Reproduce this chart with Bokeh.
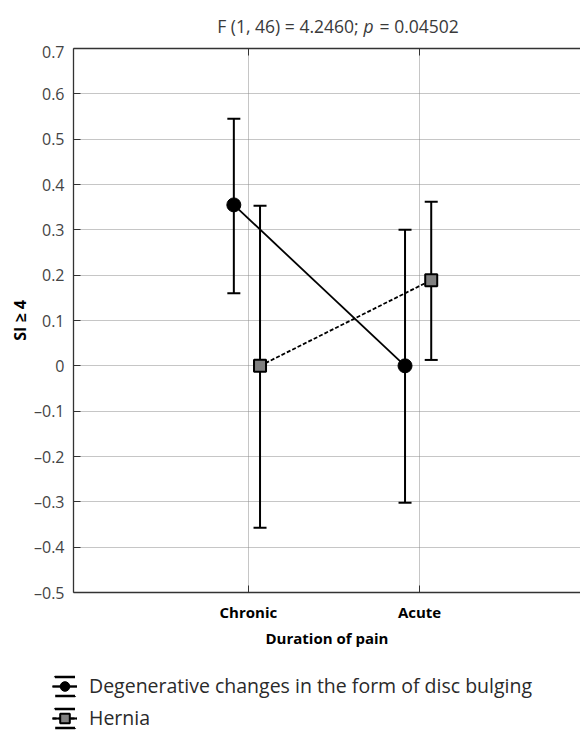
from bokeh.plotting import figure
from bokeh.layouts import column
from bokeh.models import (ColumnDataSource, FixedTicker, LinearAxis, Label,
                          Legend, LegendItem, Range1d)
from bokeh.embed import file_html
from bokeh.resources import INLINE

# ---- data -------------------------------------------------------------
categories = ["Chronic", "Acute"]
category_pos = [1, 2]

series_names = ["Degenerative changes in the form of disc bulging", "Hernia"]

deg_mean = [0.355, 0.0]
deg_lower = [0.160, -0.302]
deg_upper = [0.545, 0.300]

her_mean = [0.0, 0.189]
her_lower = [-0.357, 0.013]
her_upper = [0.353, 0.362]

y_ticks = [-0.5, -0.4, -0.3, -0.2, -0.1, 0.0, 0.1, 0.2, 0.3, 0.4, 0.5, 0.6, 0.7]
y_tick_labels = ["\u20130.5", "\u20130.4", "\u20130.3", "\u20130.2", "\u20130.1", "0",
                 "0.1", "0.2", "0.3", "0.4", "0.5", "0.6", "0.7"]

title_pre = "F (1, 46) = 4.2460;"
title_italic = "p"
title_post = "= 0.04502"
x_title = "Duration of pain"
y_title = "SI \u2265 4"

# ---- styling / layout ---------------------------------------------------
FONT = "Open Sans"
NAN = float("nan")
W = 580
TITLE_H, MAIN_H, LEG_H = 40, 620, 71

deg_off = -0.085
her_off = 0.068
deg_x = [c + deg_off for c in category_pos]
her_x = [c + her_off for c in category_pos]

deg_src = ColumnDataSource(dict(x=deg_x, y=deg_mean, lo=deg_lower, hi=deg_upper))
her_src = ColumnDataSource(dict(x=her_x, y=her_mean, lo=her_lower, hi=her_upper))

x_range = Range1d(-0.0216, 2.94)

# ---- main chart -----------------------------------------------------------
p = figure(width=W, height=MAIN_H, x_range=x_range,
           y_range=Range1d(y_ticks[0], y_ticks[-1]),
           output_backend="svg", toolbar_location=None,
           min_border_left=73, min_border_right=0, min_border_top=8,
           min_border_bottom=68, outline_line_color=None,
           background_fill_color="white", border_fill_color="white")

xa = p.xaxis[0]
xa.ticker = FixedTicker(ticks=category_pos)
xa.major_label_overrides = {c: lab for c, lab in zip(category_pos, categories)}
xa.axis_label = x_title
ya = p.yaxis[0]
ya.ticker = FixedTicker(ticks=y_ticks)
ya.major_label_overrides = {t: lab for t, lab in zip(y_ticks, y_tick_labels)}
ya.axis_label = y_title

for ax in (xa, ya):
    ax.axis_line_color = "#333333"
    ax.axis_line_width = 1.3
    ax.major_tick_line_color = "#333333"
    ax.major_tick_in = 7
    ax.major_tick_out = 0
    ax.minor_tick_line_color = None
    ax.major_label_text_font = FONT
    ax.axis_label_text_font = FONT
    ax.axis_label_text_color = "black"

xa.major_label_text_font_size = "15px"
xa.major_label_text_font_style = "bold"
xa.major_label_text_color = "black"
xa.major_label_standoff = 9
xa.axis_label_text_font_size = "15px"
xa.axis_label_text_font_style = "bold"
xa.axis_label_standoff = 3

ya.major_label_text_font_size = "16px"
ya.major_label_text_color = "#444444"
ya.major_label_standoff = 9
ya.axis_label_text_font_size = "16px"
ya.axis_label_text_font_style = "bold"
ya.axis_label_standoff = 0

top = LinearAxis(ticker=FixedTicker(ticks=category_pos),
                 major_label_text_color=None, major_label_text_font_size="1px",
                 axis_line_color="#333333", axis_line_width=1.3,
                 major_tick_line_color="#333333",
                 major_tick_in=7, major_tick_out=0, minor_tick_line_color=None,
                 major_label_standoff=0)
p.add_layout(top, "above")

p.xgrid.ticker = FixedTicker(ticks=category_pos)
p.ygrid.ticker = FixedTicker(ticks=y_ticks)
for g in (p.xgrid, p.ygrid):
    g.grid_line_color = "#8c8c8c"
    g.grid_line_dash = "1 1"
    g.grid_line_width = 1

p.line("x", "y", source=deg_src, line_color="black", line_width=1.8)
p.line("x", "y", source=her_src, line_color="black", line_width=1.8, line_dash="4 2")

for src in (deg_src, her_src):
    p.segment(x0="x", y0="lo", x1="x", y1="hi", source=src,
              line_color="black", line_width=2)
    p.scatter("x", "hi", source=src, marker="dash", size=13,
              line_color="black", line_width=2)
    p.scatter("x", "lo", source=src, marker="dash", size=13,
              line_color="black", line_width=2)

p.scatter("x", "y", source=deg_src, marker="circle", size=14,
          fill_color="black", line_color="black", line_width=1)
p.scatter("x", "y", source=her_src, marker="square", size=12,
          fill_color="#808080", line_color="black", line_width=2)

# ---- title strip (shares the chart's x scale) --------------------------------
tf = figure(width=W, height=TITLE_H, x_range=x_range, y_range=Range1d(0, TITLE_H),
            x_axis_type=None, y_axis_type=None, output_backend="svg",
            toolbar_location=None, min_border=0, outline_line_color=None)
tf.grid.visible = False
TITLE_X = 1.673
TITLE_BASE = 14.8
for txt, xo, align, style in ((title_pre, -5, "right", "normal"),
                              (title_italic, 0, "left", "italic"),
                              (title_post, 16, "left", "normal")):
    tf.add_layout(Label(x=TITLE_X, y=TITLE_BASE, x_offset=xo, text=txt,
                        text_align=align, text_baseline="alphabetic",
                        text_font=FONT, text_font_size="17.5px",
                        text_font_style=style, text_color="#3a3a3a"))

# ---- legend strip ---------------------------------------------------------
lf = figure(width=W, height=LEG_H, x_range=Range1d(0, 1), y_range=Range1d(0, LEG_H),
            x_axis_type=None, y_axis_type=None, output_backend="svg",
            toolbar_location=None, min_border=0, outline_line_color=None)
lf.grid.visible = False
if "frame_align" in lf.properties():
    lf.frame_align = False
    leg_x, glyph_w, standoff = 52, 25, 12
else:
    leg_x, glyph_w, standoff = 0, 21, 7

items = []
specs = [(series_names[0], "solid", "circle", "black", 1),
         (series_names[1], "4 2", "square", "#808080", 2)]
cap_dash = "%d %d" % (round(0.8 * glyph_w), 19)
for name, dash, marker, fill, lw in specs:
    conn = lf.line(x=[NAN], y=[NAN], line_color="black", line_width=1.8, line_dash=dash)
    stem = lf.vspan(x=[NAN], line_color="black", line_width=2)
    caps = lf.rect(x=[NAN], y=[NAN], width=1, height=1, fill_color=None,
                   line_color="black", line_width=2.5, line_dash=cap_dash)
    mk = lf.scatter(x=[NAN], y=[NAN], marker=marker, fill_color=fill,
                    line_color="black", line_width=lw)
    items.append(LegendItem(label=name, renderers=[conn, stem, caps, mk]))

legend = Legend(items=items, location=(leg_x, 0), orientation="vertical",
                glyph_width=glyph_w, glyph_height=24, label_height=24,
                label_standoff=standoff, spacing=5, padding=0, margin=0,
                border_line_color=None, background_fill_alpha=0,
                label_text_font=FONT, label_text_font_size="19.5px",
                label_text_color="#2a2a2a")
lf.add_layout(legend)

layout = column(tf, p, lf, spacing=0)
open("out.html", "w").write(file_html(layout, INLINE))
